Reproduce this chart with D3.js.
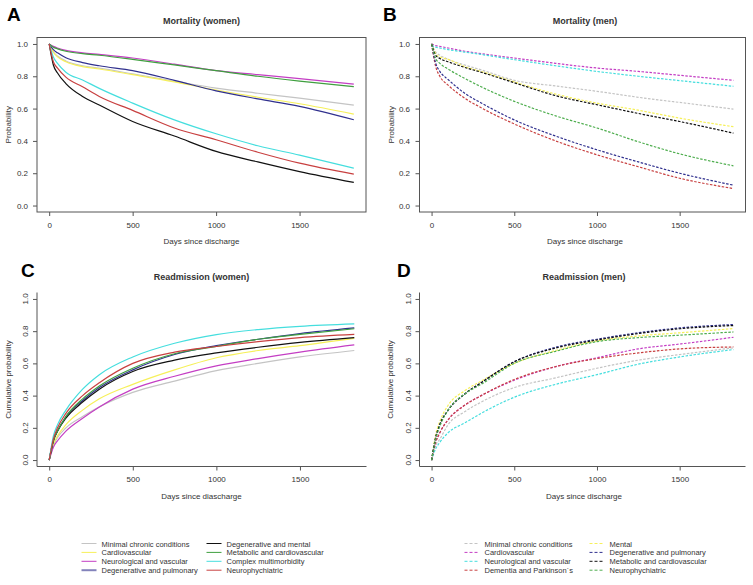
<!DOCTYPE html>
<html>
<head>
<meta charset="utf-8">
<script src="https://cdn.jsdelivr.net/npm/d3@7"></script>
<style>
  body { margin: 0; background: #fff; }
  svg { font-family: "Liberation Sans", Arial, sans-serif; }
</style>
</head>
<body>
<div id="chart"></div>
<script>
var days = [0, 25, 50, 100, 200, 300, 500, 750, 1000, 1250, 1500, 1825];

var xTicks = [0, 500, 1000, 1500];
var yTicks = [0, 0.2, 0.4, 0.6, 0.8, 1.0];

// women groups (solid lines)
var womenGroups = ["Minimal chronic conditions", "Cardiovascular", "Neurological and vascular",
  "Degenerative and pulmonary", "Degenerative and mental", "Metabolic and cardiovascular",
  "Complex multimorbidity", "Neurophychiatric"];
var womenColors = ["#c4c4c4", "#f6f05a", "#c43ec4", "#30308e", "#111111", "#3f9f3f", "#45dede", "#c84040"];

// men groups (dashed lines)
var menGroups = ["Minimal chronic conditions", "Cardiovascular", "Neurological and vascular",
  "Dementia and Parkinson´s", "Mental", "Degenerative and pulmonary",
  "Metabolic and cardiovascular", "Neurophychiatric"];
var menColors = ["#c4c4c4", "#c43ec4", "#45dede", "#c84040", "#f6f05a", "#30308e", "#111111", "#4fae4f"];

// A: mortality (women), survival probability
var mortWomen = [
  [1, 0.95, 0.925, 0.895, 0.865, 0.85, 0.815, 0.77, 0.727, 0.695, 0.665, 0.622],
  [1, 0.95, 0.92, 0.89, 0.86, 0.845, 0.81, 0.765, 0.715, 0.67, 0.63, 0.566],
  [1, 0.985, 0.975, 0.96, 0.945, 0.935, 0.913, 0.875, 0.835, 0.81, 0.785, 0.752],
  [1, 0.965, 0.945, 0.915, 0.885, 0.865, 0.835, 0.775, 0.71, 0.66, 0.614, 0.531],
  [1, 0.87, 0.82, 0.755, 0.675, 0.622, 0.52, 0.43, 0.335, 0.27, 0.21, 0.143],
  [1, 0.98, 0.97, 0.955, 0.94, 0.93, 0.905, 0.87, 0.835, 0.8, 0.77, 0.736],
  [1, 0.92, 0.88, 0.825, 0.777, 0.725, 0.634, 0.53, 0.444, 0.37, 0.312, 0.231],
  [1, 0.89, 0.85, 0.795, 0.735, 0.675, 0.589, 0.48, 0.407, 0.33, 0.262, 0.194]
];

// B: mortality (men)
var mortMen = [
  [1, 0.95, 0.93, 0.905, 0.87, 0.84, 0.775, 0.74, 0.707, 0.67, 0.638, 0.597],
  [1, 0.99, 0.985, 0.975, 0.955, 0.94, 0.913, 0.88, 0.851, 0.83, 0.806, 0.775],
  [0.99, 0.98, 0.975, 0.965, 0.95, 0.935, 0.903, 0.865, 0.83, 0.8, 0.773, 0.738],
  [1, 0.86, 0.8, 0.745, 0.665, 0.605, 0.505, 0.4, 0.314, 0.24, 0.169, 0.105],
  [1, 0.94, 0.92, 0.905, 0.86, 0.83, 0.765, 0.69, 0.634, 0.59, 0.541, 0.488],
  [1, 0.88, 0.83, 0.78, 0.695, 0.635, 0.53, 0.43, 0.345, 0.27, 0.2, 0.126],
  [1, 0.93, 0.91, 0.89, 0.855, 0.825, 0.76, 0.68, 0.624, 0.57, 0.52, 0.448],
  [1, 0.91, 0.88, 0.845, 0.787, 0.735, 0.645, 0.555, 0.48, 0.395, 0.32, 0.246]
];

// C: readmission (women), cumulative probability
var readWomen = [
  [0, 0.09, 0.14, 0.2, 0.27, 0.33, 0.42, 0.49, 0.555, 0.6, 0.64, 0.68],
  [0, 0.1, 0.15, 0.22, 0.31, 0.38, 0.47, 0.56, 0.635, 0.68, 0.71, 0.755],
  [0, 0.08, 0.12, 0.18, 0.26, 0.33, 0.44, 0.52, 0.585, 0.63, 0.67, 0.715],
  [0, 0.12, 0.18, 0.27, 0.37, 0.45, 0.56, 0.655, 0.71, 0.75, 0.785, 0.82],
  [0, 0.12, 0.18, 0.26, 0.36, 0.44, 0.55, 0.62, 0.665, 0.7, 0.73, 0.76],
  [0, 0.12, 0.18, 0.27, 0.38, 0.46, 0.57, 0.66, 0.705, 0.75, 0.78, 0.815],
  [0, 0.15, 0.22, 0.31, 0.44, 0.53, 0.64, 0.725, 0.779, 0.81, 0.83, 0.845],
  [0, 0.13, 0.2, 0.29, 0.4, 0.48, 0.6, 0.67, 0.705, 0.735, 0.76, 0.78]
];

// D: readmission (men)
var readMen = [
  [0, 0.09, 0.13, 0.22, 0.3, 0.36, 0.45, 0.51, 0.57, 0.62, 0.655, 0.696],
  [0, 0.11, 0.17, 0.25, 0.34, 0.4, 0.495, 0.58, 0.635, 0.69, 0.72, 0.762],
  [0, 0.07, 0.11, 0.17, 0.23, 0.29, 0.39, 0.47, 0.53, 0.595, 0.64, 0.686],
  [0, 0.11, 0.17, 0.25, 0.34, 0.4, 0.5, 0.58, 0.63, 0.665, 0.69, 0.702],
  [0, 0.16, 0.24, 0.34, 0.43, 0.49, 0.6, 0.68, 0.74, 0.77, 0.79, 0.816],
  [0, 0.14, 0.22, 0.31, 0.41, 0.48, 0.61, 0.7, 0.75, 0.79, 0.82, 0.841],
  [0, 0.14, 0.22, 0.31, 0.41, 0.48, 0.61, 0.695, 0.745, 0.785, 0.815, 0.835],
  [0, 0.13, 0.21, 0.31, 0.41, 0.47, 0.6, 0.675, 0.735, 0.76, 0.775, 0.795]
];

var width = 753, height = 585;

var svg = d3.select("#chart").append("svg")
  .attr("width", width)
  .attr("height", height);

var panels = [
  { letter: "A", title: "Mortality (women)", data: mortWomen, colors: womenColors, dashed: false,
    box: "full", yLabel: "Probability", xLabel: "Days since discharge",
    left: 37, right: 366, top: 37.5, bottom: 212, cx: 201.5, letterX: 7, yLabX: 8, yTickX: 28 },
  { letter: "B", title: "Mortality (men)", data: mortMen, colors: menColors, dashed: true,
    box: "full", yLabel: "Probability", xLabel: "Days since discharge",
    left: 419.5, right: 745.5, top: 37.5, bottom: 212, cx: 585, letterX: 383, yLabX: 391, yTickX: 410 },
  { letter: "C", title: "Readmission (women)", data: readWomen, colors: womenColors, dashed: false,
    box: "l", yLabel: "Cumulative probability", xLabel: "Days since diascharge",
    left: 37, right: 366.5, top: 292.5, bottom: 466.5, cx: 201.5, letterX: 21, yLabX: 8, yTickX: 25 },
  { letter: "D", title: "Readmission (men)", data: readMen, colors: menColors, dashed: true,
    box: "l", yLabel: "Cumulative probability", xLabel: "Days since discharge",
    left: 419.5, right: 745.5, top: 292.5, bottom: 466.5, cx: 584, letterX: 397, yLabX: 390, yTickX: 408 }
];

panels.forEach(function(p) {
  var g = svg.append("g");

  // R style 4% padding
  var xScale = d3.scaleLinear().domain([-73, 1898]).range([p.left, p.right]);
  var yScale = d3.scaleLinear().domain([-0.04, 1.04]).range([p.bottom, p.top]);

  var titleY = p.box == "full" ? 24 : 280;
  g.append("text")
    .text(p.letter)
    .attr("x", p.letterX)
    .attr("y", titleY - 3)
    .style("font-size", "19px")
    .style("font-weight", "bold")
    .attr("fill", "#000");

  g.append("text")
    .text(p.title)
    .attr("x", p.cx)
    .attr("y", titleY)
    .attr("text-anchor", "middle")
    .style("font-size", "9px")
    .style("font-weight", "bold")
    .attr("fill", "#333");

  // lines
  var line = d3.line()
    .x(function(d, i) { return xScale(days[i]); })
    .y(function(d) { return yScale(d); })
    .curve(d3.curveMonotoneX);

  g.append("g").selectAll("path")
    .data(p.data)
    .enter()
    .append("path")
    .attr("d", line)
    .attr("fill", "none")
    .attr("stroke", function(d, i) { return p.colors[i]; })
    .attr("stroke-width", 1.2)
    .attr("stroke-dasharray", p.dashed ? "2.5,1.5" : null);

  // box
  if (p.box == "full") {
    g.append("rect")
      .attr("x", p.left).attr("y", p.top)
      .attr("width", p.right - p.left).attr("height", p.bottom - p.top)
      .attr("fill", "none").attr("stroke", "#555").attr("stroke-width", 1);
  } else {
    g.append("path")
      .attr("d", "M" + p.left + "," + p.top + "V" + p.bottom + "H" + p.right)
      .attr("fill", "none").attr("stroke", "#555").attr("stroke-width", 1);
  }

  // x axis
  var xAxis = d3.axisBottom(xScale).tickValues(xTicks).tickSize(4).tickPadding(6)
    .tickFormat(d3.format("d"));
  var xg = g.append("g")
    .attr("transform", "translate(0," + p.bottom + ")")
    .call(xAxis);
  xg.select(".domain").remove();
  xg.selectAll("line").attr("stroke", "#555");
  xg.selectAll("text").style("font-size", "8px").attr("fill", "#333");

  // y axis
  var yAxis = d3.axisLeft(yScale).tickValues(yTicks).tickSize(4).tickFormat(d3.format(".1f"));
  var yg = g.append("g")
    .attr("transform", "translate(" + p.left + ",0)")
    .call(yAxis);
  yg.select(".domain").remove();
  yg.selectAll("line").attr("stroke", "#555");
  yg.selectAll("text").remove();

  var ylab = g.append("g").selectAll("text")
    .data(yTicks)
    .enter()
    .append("text")
    .text(function(d) { return d3.format(".1f")(d); })
    .style("font-size", "8px")
    .attr("fill", "#333");
  if (p.box == "full") {
    ylab.attr("x", p.yTickX)
      .attr("y", function(d) { return yScale(d) + 3; })
      .attr("text-anchor", "end");
  } else {
    ylab.attr("text-anchor", "middle")
      .attr("transform", function(d) {
        return "translate(" + (p.yTickX + 3) + "," + yScale(d) + ") rotate(-90)";
      });
  }

  g.append("text")
    .text(p.xLabel)
    .attr("x", p.cx)
    .attr("y", p.bottom + 32)
    .attr("text-anchor", "middle")
    .style("font-size", "8px")
    .attr("fill", "#333");

  g.append("text")
    .text(p.yLabel)
    .attr("text-anchor", "middle")
    .attr("transform", "translate(" + (p.yLabX + 3) + "," + ((p.top + p.bottom) / 2) + ") rotate(-90)")
    .style("font-size", "8px")
    .attr("fill", "#333");
});

// legends
function drawLegend(names, colors, dashed, col1, col2) {
  var lg = svg.append("g");
  var items = lg.selectAll("g")
    .data(names)
    .enter()
    .append("g")
    .attr("transform", function(d, i) {
      var x = i < 4 ? col1 : col2;
      var y = 543.5 + (i % 4) * 8.9;
      return "translate(" + x + "," + y + ")";
    });
  items.append("line")
    .attr("x1", 0).attr("x2", 15)
    .attr("stroke", function(d, i) { return colors[i]; })
    .attr("stroke-width", function(d, i) { return !dashed && i == 3 ? 2 : 1; })
    .attr("stroke-opacity", function(d, i) { return !dashed && i == 3 ? 0.6 : 1; })
    .attr("stroke-dasharray", dashed ? "3,2" : null);
  items.append("text")
    .text(function(d) { return d; })
    .attr("x", 20)
    .attr("y", 3)
    .style("font-size", "7.5px")
    .attr("fill", "#333");
}

drawLegend(womenGroups, womenColors, false, 81.5, 206.5);
drawLegend(menGroups, menColors, true, 464.5, 589.5);
</script>
</body>
</html>
